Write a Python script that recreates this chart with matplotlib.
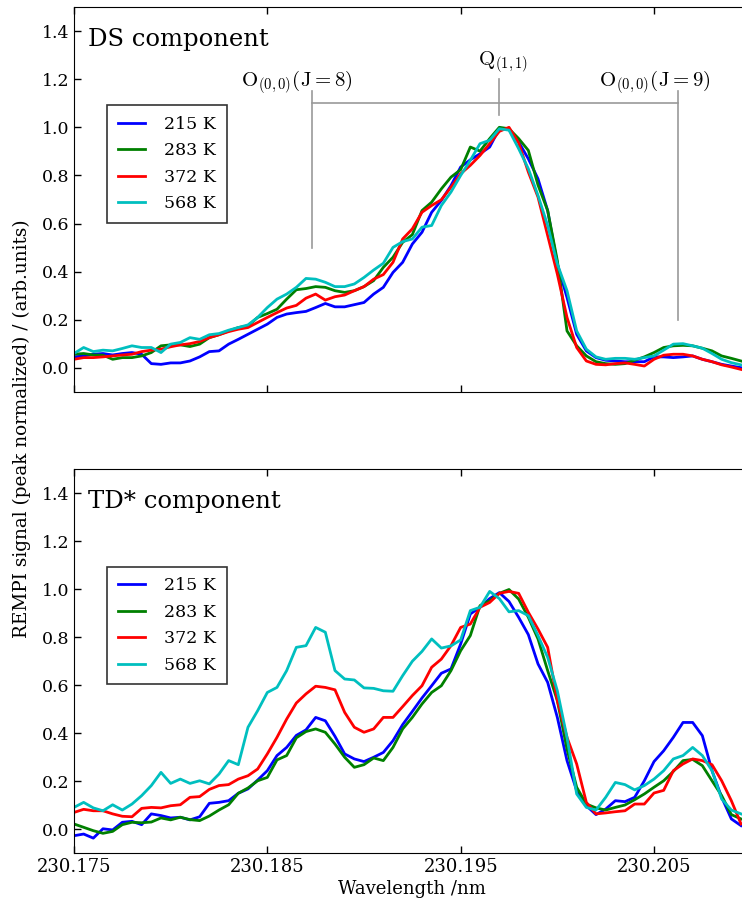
import numpy as np
import matplotlib
matplotlib.use("Agg")
import matplotlib.pyplot as plt

plt.rcParams["font.family"] = "DejaVu Serif"
plt.rcParams["mathtext.fontset"] = "cm"
plt.rcParams["xtick.direction"] = "in"
plt.rcParams["ytick.direction"] = "in"
plt.rcParams["xtick.top"] = True
plt.rcParams["ytick.right"] = True

# scan grid (nm)
wl_start = 230.175
wl_step = 0.0005

temperatures = ["215 K", "283 K", "372 K", "568 K"]
colors = ["b", "g", "r", "c"]

# DS component, peak normalized
ds_215 = [0.046, 0.050, 0.057, 0.060, 0.054, 0.060, 0.064, 0.057, 0.018, 0.015,
          0.021, 0.021, 0.029, 0.046, 0.068, 0.071, 0.099, 0.119, 0.140, 0.161,
          0.182, 0.210, 0.224, 0.230, 0.235, 0.251, 0.268, 0.254, 0.254, 0.263,
          0.272, 0.307, 0.335, 0.397, 0.439, 0.515, 0.564, 0.647, 0.696, 0.758,
          0.835, 0.865, 0.890, 0.918, 0.994, 0.990, 0.939, 0.869, 0.786, 0.654,
          0.432, 0.293, 0.140, 0.071, 0.043, 0.032, 0.029, 0.026, 0.026, 0.026,
          0.046, 0.046, 0.043, 0.046, 0.050, 0.036, 0.026, 0.015, 0.008, 0.001]
ds_283 = [0.057, 0.060, 0.054, 0.053, 0.036, 0.043, 0.043, 0.050, 0.064, 0.092,
          0.096, 0.096, 0.089, 0.099, 0.126, 0.138, 0.154, 0.168, 0.175, 0.210,
          0.226, 0.244, 0.286, 0.325, 0.330, 0.338, 0.335, 0.321, 0.314, 0.321,
          0.338, 0.363, 0.418, 0.460, 0.522, 0.554, 0.654, 0.689, 0.744, 0.793,
          0.824, 0.918, 0.901, 0.953, 1.000, 0.994, 0.953, 0.904, 0.760, 0.654,
          0.446, 0.154, 0.092, 0.050, 0.026, 0.018, 0.015, 0.018, 0.032, 0.046,
          0.064, 0.085, 0.092, 0.094, 0.092, 0.082, 0.071, 0.050, 0.040, 0.029]
ds_372 = [0.036, 0.043, 0.043, 0.046, 0.050, 0.054, 0.057, 0.068, 0.074, 0.078,
          0.088, 0.096, 0.101, 0.110, 0.126, 0.138, 0.151, 0.161, 0.168, 0.189,
          0.210, 0.230, 0.249, 0.260, 0.290, 0.307, 0.282, 0.296, 0.303, 0.321,
          0.338, 0.369, 0.388, 0.439, 0.536, 0.578, 0.647, 0.675, 0.699, 0.751,
          0.807, 0.842, 0.883, 0.932, 0.983, 1.000, 0.935, 0.814, 0.710, 0.550,
          0.390, 0.210, 0.085, 0.029, 0.015, 0.013, 0.018, 0.021, 0.015, 0.008,
          0.036, 0.053, 0.057, 0.057, 0.050, 0.036, 0.026, 0.013, 0.004, -0.006]
ds_568 = [0.060, 0.085, 0.068, 0.074, 0.071, 0.081, 0.092, 0.085, 0.085, 0.064,
          0.099, 0.106, 0.126, 0.119, 0.138, 0.143, 0.157, 0.168, 0.179, 0.210,
          0.251, 0.286, 0.307, 0.335, 0.372, 0.369, 0.356, 0.338, 0.338, 0.349,
          0.376, 0.407, 0.435, 0.501, 0.525, 0.536, 0.585, 0.592, 0.675, 0.731,
          0.800, 0.863, 0.932, 0.946, 0.994, 0.988, 0.911, 0.828, 0.717, 0.592,
          0.432, 0.321, 0.154, 0.078, 0.046, 0.036, 0.040, 0.040, 0.036, 0.043,
          0.050, 0.074, 0.099, 0.101, 0.092, 0.082, 0.060, 0.036, 0.022, 0.013]

# TD* component, peak normalized
td_215 = [-0.028, -0.021, -0.038, 0.001, -0.004, 0.028, 0.032, 0.018, 0.063, 0.056,
          0.046, 0.049, 0.038, 0.051, 0.107, 0.111, 0.118, 0.149, 0.167, 0.204,
          0.243, 0.306, 0.340, 0.390, 0.413, 0.465, 0.451, 0.386, 0.313, 0.292,
          0.281, 0.299, 0.319, 0.368, 0.435, 0.490, 0.546, 0.597, 0.649, 0.667,
          0.771, 0.896, 0.924, 0.960, 0.985, 0.948, 0.882, 0.810, 0.688, 0.611,
          0.465, 0.285, 0.160, 0.097, 0.060, 0.083, 0.118, 0.114, 0.132, 0.201,
          0.281, 0.326, 0.382, 0.444, 0.444, 0.389, 0.243, 0.132, 0.042, 0.014]
td_283 = [0.021, 0.007, -0.007, -0.018, -0.010, 0.018, 0.028, 0.026, 0.029, 0.046,
          0.038, 0.049, 0.039, 0.035, 0.054, 0.079, 0.101, 0.149, 0.171, 0.201,
          0.215, 0.288, 0.306, 0.380, 0.406, 0.417, 0.403, 0.354, 0.299, 0.257,
          0.268, 0.296, 0.285, 0.340, 0.417, 0.465, 0.521, 0.569, 0.597, 0.660,
          0.743, 0.806, 0.931, 0.951, 0.982, 0.998, 0.958, 0.882, 0.792, 0.660,
          0.535, 0.333, 0.174, 0.104, 0.088, 0.079, 0.090, 0.100, 0.122, 0.146,
          0.174, 0.201, 0.240, 0.285, 0.290, 0.264, 0.201, 0.139, 0.060, 0.042]
td_372 = [0.069, 0.082, 0.076, 0.076, 0.063, 0.053, 0.051, 0.086, 0.090, 0.088,
          0.097, 0.101, 0.132, 0.135, 0.165, 0.181, 0.185, 0.208, 0.222, 0.250,
          0.313, 0.382, 0.458, 0.525, 0.563, 0.595, 0.590, 0.580, 0.486, 0.424,
          0.403, 0.417, 0.465, 0.465, 0.510, 0.556, 0.597, 0.674, 0.708, 0.764,
          0.840, 0.854, 0.924, 0.944, 0.982, 0.990, 0.982, 0.903, 0.833, 0.757,
          0.535, 0.382, 0.271, 0.111, 0.063, 0.067, 0.072, 0.076, 0.104, 0.104,
          0.150, 0.161, 0.243, 0.271, 0.292, 0.285, 0.268, 0.201, 0.118, 0.021]
td_568 = [0.090, 0.111, 0.088, 0.076, 0.101, 0.079, 0.104, 0.139, 0.181, 0.236,
          0.190, 0.208, 0.190, 0.201, 0.188, 0.229, 0.285, 0.268, 0.424, 0.493,
          0.569, 0.590, 0.660, 0.757, 0.764, 0.840, 0.820, 0.660, 0.625, 0.621,
          0.588, 0.586, 0.576, 0.574, 0.639, 0.699, 0.740, 0.792, 0.754, 0.763,
          0.788, 0.910, 0.924, 0.990, 0.960, 0.905, 0.910, 0.889, 0.806, 0.715,
          0.576, 0.382, 0.146, 0.090, 0.079, 0.132, 0.194, 0.185, 0.163, 0.181,
          0.208, 0.243, 0.292, 0.306, 0.340, 0.306, 0.243, 0.125, 0.079, 0.063]

xticks = [230.175, 230.185, 230.195, 230.205]
xtick_labels = ["230.175", "230.185", "230.195", "230.205"]
yticks = [0.0, 0.2, 0.4, 0.6, 0.8, 1.0, 1.2, 1.4]

# line assignments in the DS panel
line_labels = [r"$\mathrm{O}_{(0,0)}(\mathrm{J}=8)$", r"$\mathrm{Q}_{(1,1)}$",
               r"$\mathrm{O}_{(0,0)}(\mathrm{J}=9)$"]
line_pos = [230.18731, 230.19699, 230.20625]
line_bottom = [0.50, 1.05, 0.20]
line_top = [1.15, 1.20, 1.15]
bar_level = 1.10
label_x = [230.18651, 230.19719, 230.20506]
label_y = [1.168, 1.255, 1.171]

wavelength = wl_start + wl_step * np.arange(len(ds_215))

fig = plt.figure(figsize=(7.42, 9.06), dpi=100)
ax1 = fig.add_axes([0.0997, 0.5673, 0.912, 0.425])
ax2 = fig.add_axes([0.0997, 0.0585, 0.912, 0.4238])

for ax, series, title in [(ax1, [ds_215, ds_283, ds_372, ds_568], "DS component"),
                          (ax2, [td_215, td_283, td_372, td_568], "TD* component")]:
    for vals, c, lab in zip(series, colors, temperatures):
        ax.plot(wavelength, vals, color=c, lw=2, label=lab)
    ax.set_xlim(230.175, 230.21)
    ax.set_ylim(-0.1, 1.5)
    ax.set_xticks(xticks)
    ax.set_yticks(yticks)
    ax.set_yticklabels(["%.1f" % t for t in yticks])
    ax.tick_params(axis="y", labelsize=12.5, length=5, width=1)
    ax.tick_params(axis="x", labelsize=13, length=5, width=1)
    ax.text(0.021, 0.899, title, transform=ax.transAxes, fontsize=17.5,
            ha="left", va="baseline")
    leg = ax.legend(loc="upper left", bbox_to_anchor=(0.049, 0.745),
                    fontsize=12.5, handlelength=1.6, handletextpad=1.1,
                    borderpad=0.6, labelspacing=0.55, fancybox=False,
                    borderaxespad=0)
    leg.get_frame().set_edgecolor("black")
    leg.get_frame().set_linewidth(1.2)

ax1.set_xticklabels([])
ax2.set_xticklabels(xtick_labels)
ax2.set_xlabel("Wavelength /nm", fontsize=13, labelpad=3)

# assignment bars
gray = "#999999"
ax1.plot([line_pos[0], line_pos[2]], [bar_level, bar_level], color=gray, lw=1.2)
for xp, yb, yt in zip(line_pos, line_bottom, line_top):
    ax1.plot([xp, xp], [yb, yt], color=gray, lw=1.2)
for xl, yl, s in zip(label_x, label_y, line_labels):
    ax1.text(xl, yl, s, fontsize=15, ha="center", va="baseline")

fig.text(0.03, 0.5265, "REMPI signal (peak normalized) / (arb.units)",
         rotation=90, ha="center", va="center", fontsize=13.2)

fig.savefig("out.png", dpi=100)
